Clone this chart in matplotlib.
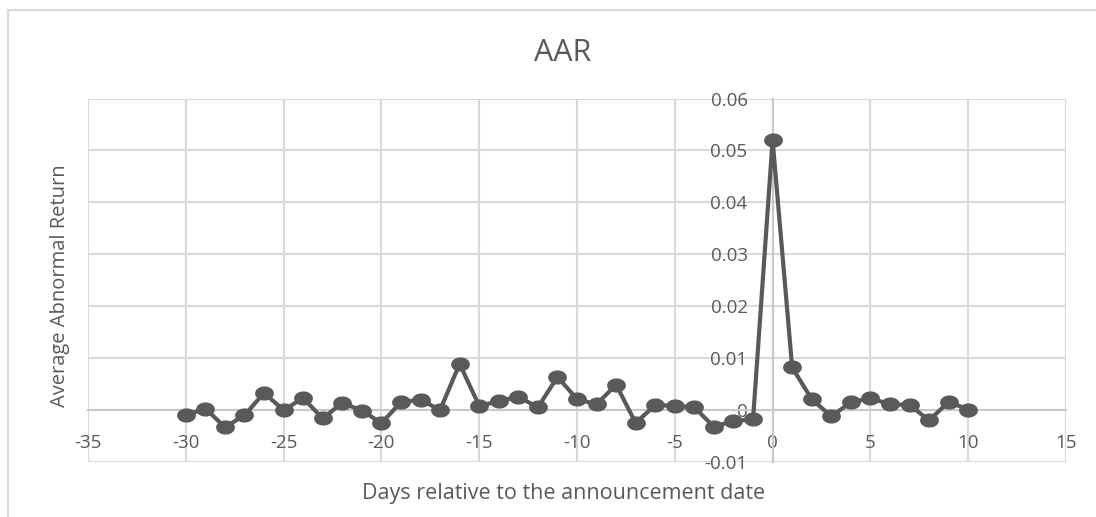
import matplotlib
matplotlib.use("Agg")
import matplotlib.pyplot as plt
import numpy as np
from matplotlib.path import Path
from matplotlib.patches import Rectangle

days = list(range(-30, 11))
aar = [-0.0010, 0.0003, -0.0033, -0.0010, 0.0033, 0.0000, 0.0023, -0.0016, 0.0014, -0.0001,
       -0.0025, 0.0015, 0.0020, 0.0000, 0.0089, 0.0008, 0.0017, 0.0026, 0.0005, 0.0064,
       0.0021, 0.0011, 0.0049, -0.0025, 0.0010, 0.0008, 0.0005, -0.0032, -0.0021, -0.0018,
       0.0520, 0.0082, 0.0021, -0.0012, 0.0015, 0.0023, 0.0011, 0.0010, -0.0020, 0.0016,
       0.0001]
x_ticks = list(range(-35, 16, 5))
y_ticks = [-0.01, 0.0, 0.01, 0.02, 0.03, 0.04, 0.05, 0.06]
y_tick_labels = ["-0.01", "0", "0.01", "0.02", "0.03", "0.04", "0.05", "0.06"]

plt.rcParams['font.family'] = ['Open Sans', 'DejaVu Sans']
plt.rcParams['axes.unicode_minus'] = False
txt = "#595959"
grid = "#d9d9d9"

fig = plt.figure(figsize=(10.96, 5.17), dpi=100)
ax = fig.add_axes([88/1096, 1-462/517, (1066-88)/1096, (462-98.5)/517])

# chart-area border
fig.patches.append(Rectangle((8/1096, -0.1), 1.2, (1-10/517)+0.1, transform=fig.transFigure,
                             fill=False, edgecolor=grid, linewidth=1.5))

t = np.linspace(0, 2*np.pi, 60)
ell = Path(np.column_stack([1.36*np.cos(t), np.sin(t)]))

ax.plot(days, aar, color=txt, linewidth=3.0, marker=ell, markersize=12.5,
        markerfacecolor=txt, markeredgecolor=txt, zorder=3)

ax.set_xlim(-35, 15)
ax.set_ylim(-0.01, 0.06)
ax.set_xticks(x_ticks)
ax.set_yticks(y_ticks)
ax.set_yticklabels(y_tick_labels)
ax.grid(True, color=grid, linewidth=1.5)
ax.set_axisbelow(True)

for s in ['top', 'right']:
    ax.spines[s].set_visible(False)
ax.spines['left'].set_position(('data', 0))
ax.spines['bottom'].set_position(('data', 0))
for s in ['left', 'bottom']:
    ax.spines[s].set_color("#c8c8c8")
    ax.spines[s].set_linewidth(1.5)
    ax.spines[s].set_zorder(2)

ax.tick_params(axis='both', length=0, labelsize=13.5, labelcolor=txt)
ax.tick_params(axis='y', pad=18)
ax.tick_params(axis='x', pad=17)

fig.text(563/1096, 1-53/517, "AAR", ha='center', va='center', fontsize=22, color=txt)
fig.text(564/1096, 1-493/517, "Days relative to the announcement date", ha='center', va='center',
         fontsize=15.5, color=txt)
fig.text(60/1096, 1-286/517, "Average Abnormal Return", ha='center', va='center', rotation=90,
         fontsize=14.5, color=txt)

fig.savefig("out.png", dpi=100)
